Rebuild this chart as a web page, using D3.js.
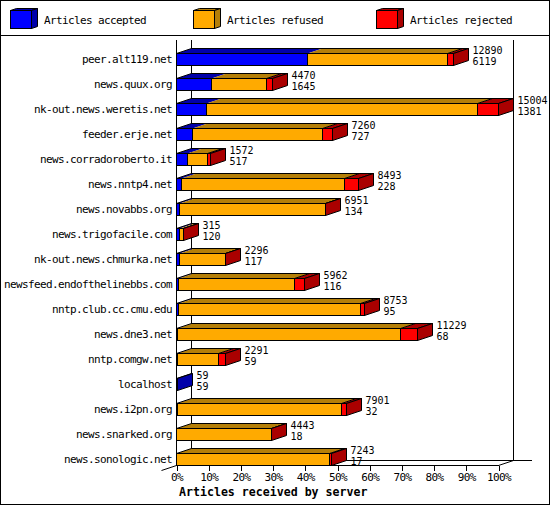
<!DOCTYPE html>
<html>
<head>
<meta charset="utf-8">
<script src="https://cdn.jsdelivr.net/npm/d3@7"></script>
<style>
html, body { margin: 0; padding: 0; background: #fff; }
svg { display: block; }
text { font-family: "DejaVu Sans Mono", monospace; font-size: 11px; letter-spacing: -0.62px; fill: #000; }
.count { font-size: 10px; letter-spacing: 0; }
.title { font-weight: bold; font-size: 11.6px; letter-spacing: 0; }
</style>
</head>
<body>
<div id="chart"></div>
<script>
"use strict";

var servers = ["peer.alt119.net", "news.quux.org", "nk-out.news.weretis.net", "feeder.erje.net",
  "news.corradoroberto.it", "news.nntp4.net", "news.novabbs.org", "news.trigofacile.com",
  "nk-out.news.chmurka.net", "newsfeed.endofthelinebbs.com", "nntp.club.cc.cmu.edu", "news.dne3.net",
  "nntp.comgw.net", "localhost", "news.i2pn.org", "news.snarked.org", "news.sonologic.net"];
var accepted = [6119, 1645, 1381, 727, 517, 228, 134, 120, 117, 116, 95, 68, 59, 59, 32, 18, 17];
var refused = [6491, 2545, 12663, 6098, 940, 7610, 6807, 193, 2174, 5376, 8473, 10351, 1892, 0, 7654, 4420, 7111];
var rejected = [280, 280, 960, 435, 115, 655, 10, 2, 5, 470, 185, 810, 340, 0, 215, 5, 115];
var totals = [12890, 4470, 15004, 7260, 1572, 8493, 6951, 315, 2296, 5962, 8753, 11229, 2291, 59, 7901, 4443, 7243];
var percentTicks = [0, 10, 20, 30, 40, 50, 60, 70, 80, 90, 100];
var legendNames = ["Articles accepted", "Articles refused", "Articles rejected"];
var frontColors = ["#0000ff", "#ffaa00", "#ff0000"];
var darkColors = ["#0000aa", "#b57f08", "#aa0000"];

var W = 550, H = 505,
    dx = 15, dy = 5,      // depth of the 3d bars
    barH = 12;

var svg = d3.select("#chart").append("svg")
    .attr("width", W)
    .attr("height", H);

var x = d3.scaleLinear().domain([0, d3.max(totals)]).range([176.5, 498.5]);
var xPct = d3.scaleLinear().domain([0, 100]).range([176.5, 498.5]);
var y = d3.scalePoint().domain(servers).range([59.5, 459.5]);

function px(v) { return Math.floor(v) + 0.5; }
function poly(pts) { return "M" + pts.map(function(p) { return p.join(","); }).join("L") + "Z"; }
function line(g, x1, y1, x2, y2, crisp) {
  g.append("line").attr("x1", x1).attr("y1", y1).attr("x2", x2).attr("y2", y2)
    .attr("stroke", "#000").attr("shape-rendering", crisp ? "crispEdges" : "auto");
}

// frame
svg.append("rect").attr("x", 0.5).attr("y", 0.5).attr("width", W - 1).attr("height", H - 1)
  .attr("fill", "#fff").attr("stroke", "#000").attr("shape-rendering", "crispEdges");
line(svg, 0, 35.5, W, 35.5, true);

// legend
var legendX = [10.5, 193.5, 376.5];
legendNames.forEach(function(name, i) {
  var g = svg.append("g").attr("transform", "translate(" + legendX[i] + ",10.5)");
  g.append("path").attr("d", poly([[0, 0], [6, -2], [27, -2], [21, 0]])).attr("fill", darkColors[i]).attr("stroke", "#000");
  g.append("path").attr("d", poly([[21, 0], [27, -2], [27, 16], [21, 18]])).attr("fill", darkColors[i]).attr("stroke", "#000");
  g.append("rect").attr("width", 21).attr("height", 18).attr("fill", frontColors[i]).attr("stroke", "#000")
    .attr("shape-rendering", "crispEdges");
  g.append("text").attr("x", 33.5).attr("y", 13).text(name);
});

// walls and floor
var walls = svg.append("g");
line(walls, 176.5, 40, 176.5, 465.5, true);
line(walls, 191.5, 40, 191.5, 460.5, true);
line(walls, 513.5, 40, 513.5, 460.5, true);
line(walls, 191.5, 460.5, 532, 460.5, true);
line(walls, 176.5, 465.5, 498.5, 465.5, true);
line(walls, 161.5, 470.5, 176.5, 465.5);
line(walls, 498.5, 465.5, 513.5, 460.5);

// bars, top to bottom so that each one overlaps the one behind it
servers.forEach(function(name, i) {
  var top = y(name) - barH / 2,
      bottom = top + barH,
      values = [accepted[i], refused[i], rejected[i]],
      g = svg.append("g"),
      sum = 0,
      segs = [];

  values.forEach(function(v, k) {
    if (v > 0) segs.push({ k: k, x0: px(x(sum)), x1: px(x(sum + v)) });
    sum += v;
  });
  var last = segs[segs.length - 1];
  var left = x(0);

  segs.forEach(function(s) {
    g.append("path")
      .attr("d", poly([[s.x0, top], [s.x0 + dx, top - dy], [s.x1 + dx, top - dy], [s.x1, top]]))
      .attr("fill", darkColors[s.k])
      .attr("stroke", s.k == 2 ? "#000" : "none");
  });
  // outline of the top face
  g.append("path")
    .attr("d", "M" + left + "," + top + "L" + (left + dx) + "," + (top - dy) + "L" + (last.x1 + dx) + "," + (top - dy))
    .attr("fill", "none").attr("stroke", "#000");

  // end face takes the colour of the last part of the bar
  g.append("path")
    .attr("d", poly([[last.x1, top], [last.x1 + dx, top - dy], [last.x1 + dx, bottom - dy], [last.x1, bottom]]))
    .attr("fill", darkColors[last.k]).attr("stroke", "#000");

  segs.forEach(function(s) {
    g.append("rect")
      .attr("x", s.x0).attr("y", top)
      .attr("width", s.x1 - s.x0).attr("height", barH)
      .attr("fill", frontColors[s.k]).attr("stroke", "#000")
      .attr("shape-rendering", "crispEdges");
  });

  g.append("text").attr("class", "count").attr("x", last.x1 + dx + 4).attr("y", y(name) - 5.5).text(totals[i]);
  g.append("text").attr("class", "count").attr("x", last.x1 + dx + 4).attr("y", y(name) + 5.5).text(accepted[i]);
  g.append("text").attr("x", 172).attr("y", y(name) + 3.5).attr("text-anchor", "end").text(name);
});

// percent axis
var axis = d3.axisBottom(xPct)
    .tickValues(percentTicks)
    .tickSize(5)
    .tickFormat(function(d) { return d + "%"; });
var ax = svg.append("g").attr("transform", "translate(0,465.5)").call(axis);
ax.select(".domain").remove();
ax.selectAll("line").attr("stroke", "#000").attr("shape-rendering", "crispEdges");
ax.selectAll("text").attr("y", 8).attr("dy", "0.71em");
ax.attr("font-family", null).attr("font-size", null);

svg.append("text").attr("class", "title").attr("x", 179).attr("y", 496).text("Articles received by server");
</script>
</body>
</html>
